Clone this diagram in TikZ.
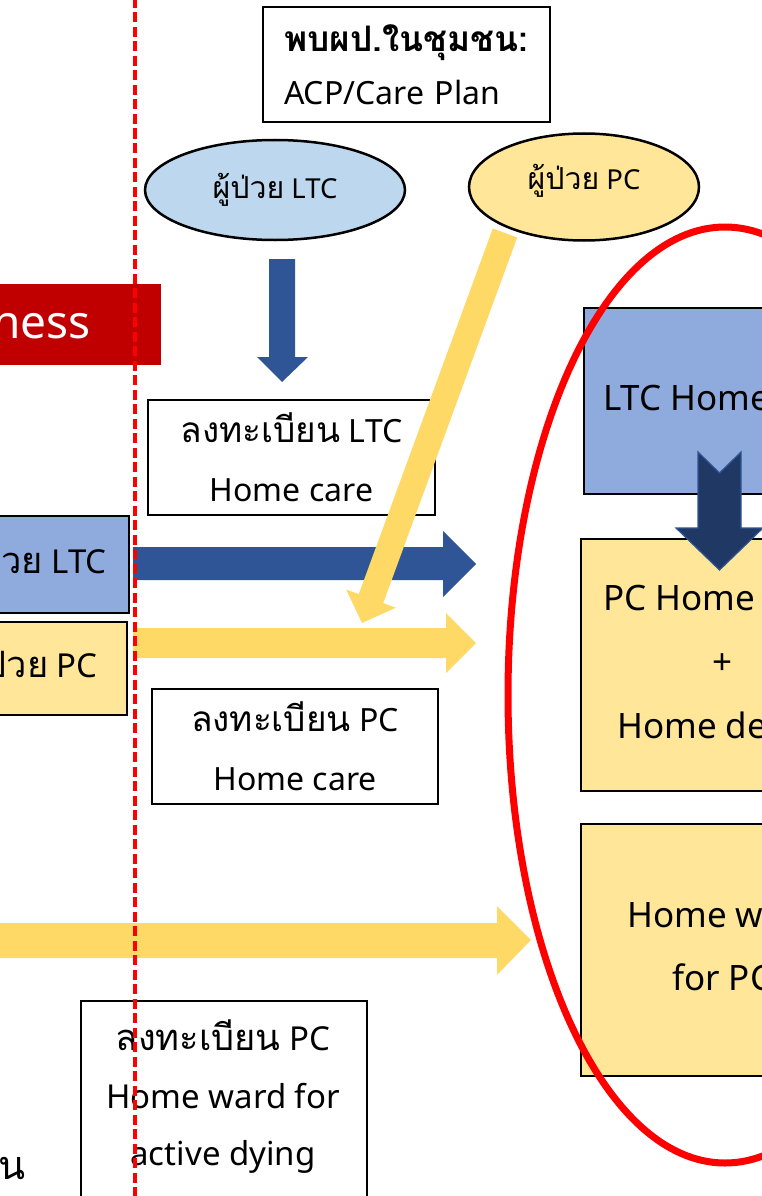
\documentclass[tikz,border=0pt]{standalone}
\usepackage{fontspec}
\setmainfont{Noto Sans}
\newfontfamily\thai[Script=Thai,Scale=1.1]{Loma}
\usetikzlibrary{shapes.geometric}
\definecolor{ltcblue}{HTML}{BDD7EE}
\definecolor{pcyel}{HTML}{FFE699}
\definecolor{boxblue}{HTML}{8FAADC}
\definecolor{arrblue}{HTML}{2F5597}
\definecolor{arryel}{HTML}{FFD966}
\definecolor{navyarr}{HTML}{203864}
\definecolor{darkred}{HTML}{C00000}
\begin{document}
\begin{tikzpicture}[x=1pt,y=-1pt,
  box/.style={draw=black, line width=2pt, inner sep=0pt, align=center},
  boxtxt/.style={font=\fontsize{32}{59}\selectfont},
  bigtxt/.style={font=\fontsize{35}{64}\selectfont},
  elltxt/.style={font=\fontsize{27.5}{30}\selectfont},
  sidetxt/.style={font=\fontsize{33}{40}\selectfont},
  ell/.style={ellipse, draw=black, line width=2.5pt, inner sep=0pt}]
\useasboundingbox (0,0) rectangle (762,1196);
\clip (0,0) rectangle (762,1196);
\fill[white] (0,0) rectangle (762,1196);

% red title box (cut)
\node[fill=darkred, minimum width=200pt, minimum height=81pt, inner sep=0pt, anchor=north east] (title) at (161,284) {};
\node[anchor=base east, text=white, font=\fontsize{46}{50}\selectfont, inner sep=0pt] (titletxt) at (91,338) {ness};

% left boxes (cut)
\node[box, fill=boxblue, minimum width=250pt, minimum height=97pt, anchor=north east] (leftltc) at (130,515) {};
\node[sidetxt, anchor=base east, inner sep=0pt] (leftltctxt) at (107,573) {{\thai ผู้ป่วย} LTC};
\node[box, fill=pcyel, minimum width=250pt, minimum height=93pt, anchor=north east] (leftpc) at (128,621) {};
\node[sidetxt, anchor=base east, inner sep=0pt] (leftpctxt) at (98,677) {{\thai ผู้ป่วย} PC};

% top box
\node[box, fill=white, anchor=north west, minimum width=287pt, minimum height=115pt, text width=245pt, inner xsep=21pt, align=left, font=\fontsize{32}{53}\selectfont] (meet) at (262,6) {{\thai\bfseries พบผป.ในชุมชน:}\\ACP/Care Plan};

% ellipses
\node[ell, fill=ltcblue, minimum width=260pt, minimum height=100pt, elltxt] (eltc) at (275,190) {{\thai ผู้ป่วย} LTC};
\node[ell, fill=pcyel, minimum width=230pt, minimum height=107pt, elltxt] (epc) at (584,187) {\raisebox{6pt}[\height][\depth]{{\thai ผู้ป่วย} PC}};

% blue down arrow
\fill[arrblue] (269,259) -- (295,259) -- (295,357) -- (308,357) -- (282,382) -- (257,357) -- (269,357) -- cycle;

% registration boxes
\node[box, fill=white, minimum width=287pt, minimum height=115pt, boxtxt] (regltc) at (291.5,457.5) {{\thai ลงทะเบียน} LTC\\Home care};
\node[box, fill=white, minimum width=286pt, minimum height=115pt, boxtxt] (regpc) at (295,746.5) {{\thai ลงทะเบียน} PC\\Home care};

% horizontal arrows
\fill[arrblue] (133,547) -- (443,547) -- (443,531) -- (476,564) -- (443,597) -- (443,580) -- (133,580) -- cycle;
\fill[arryel] (133,628) -- (446,628) -- (446,613) -- (476,643) -- (446,673) -- (446,658) -- (133,658) -- cycle;

% yellow diagonal arrow
\fill[arryel] (492.8,228.5) -- (517.2,237.5) -- (383.2,603.1) -- (395.9,607.7) -- (362,623) -- (346.1,589.5) -- (358.8,594.1) -- cycle;

% right column boxes
\node[box, fill=boxblue, anchor=north west, minimum width=287pt, minimum height=186pt] (ltchome) at (583,307) {};
\node[bigtxt, anchor=base west, inner sep=0pt] (ltchometxt) at (603,410) {LTC Home care};
\node[box, fill=pcyel, anchor=north west, minimum width=287pt, minimum height=252pt] (pchome) at (580,538) {};
\node[bigtxt, anchor=base west, inner sep=0pt] (pchometxt) at (603,610) {PC Home care};
\node[bigtxt, inner sep=0pt] (plus) at (723,664) {+};
\node[bigtxt, anchor=base west, inner sep=0pt] (deathtxt) at (617,738) {Home death};
\node[box, fill=pcyel, anchor=north west, minimum width=287pt, minimum height=252pt] (homeward) at (580,823) {};
\node[bigtxt, anchor=base west, inner sep=0pt] (wardtxt) at (627,927) {Home ward};
\node[bigtxt, anchor=base west, inner sep=0pt] (forpctxt) at (672,990) {for PC};

% navy down arrow between right boxes
\draw[fill=navyarr, draw=arrblue, line width=1.2pt, line join=miter] (698,452) -- (719.5,473) -- (741,452) -- (741,528) -- (763,528) -- (719.5,570) -- (676,528) -- (698,528) -- cycle;

% bottom yellow arrow
\fill[arryel] (-5,923) -- (497,923) -- (497,906) -- (531,940) -- (497,975) -- (497,958) -- (-5,958) -- cycle;

% bottom registration box
\node[box, fill=white, anchor=north west, minimum width=286pt, minimum height=230pt] (regward) at (80,1000) {};
\node[align=center, font=\fontsize{33}{57.5}\selectfont, inner sep=0pt] (regwardtxt) at (223,1097) {{\thai ลงทะเบียน} PC\\Home ward for\\active dying};

% red ellipse
\draw[red, line width=7pt] (725,695) ellipse [x radius=217pt, y radius=468pt];

% red dashed divider
\draw[red, line width=3.5pt, dash pattern=on 10pt off 4.5pt] (135,-2) -- (135,1198);

% bottom-left cut text
\node[anchor=base east, inner sep=0pt, font=\fontsize{36}{40}\selectfont] (cuttxt) at (26,1179) {\thai ใน};
\end{tikzpicture}
\end{document}
